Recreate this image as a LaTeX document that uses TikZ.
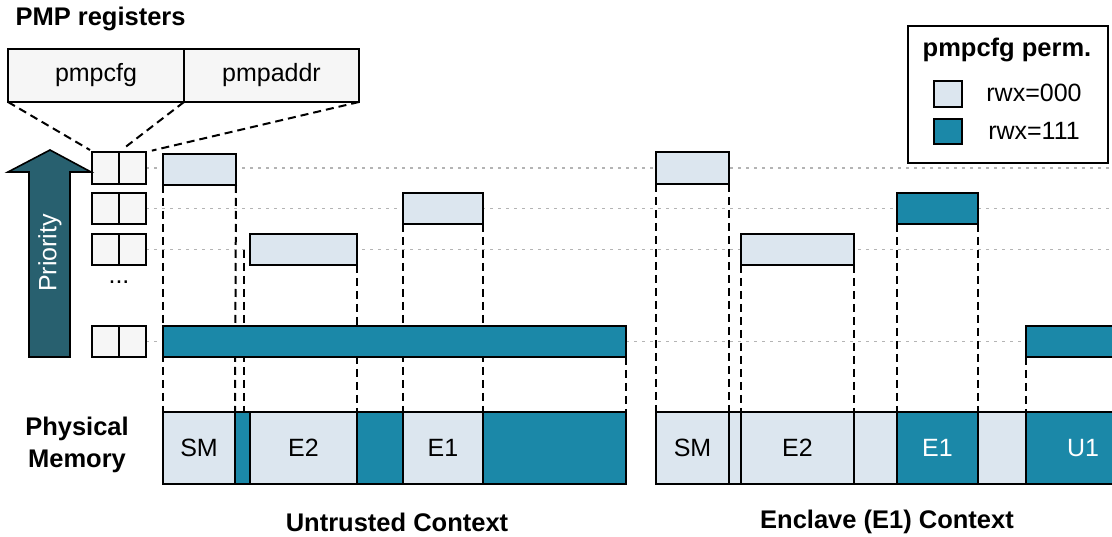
\documentclass[tikz,border=0pt]{standalone}
\usepackage{fontspec}
\setmainfont{Liberation Sans}
\usetikzlibrary{backgrounds}
\definecolor{litec}{HTML}{DCE6EF}
\definecolor{tealc}{HTML}{1B88A8}
\definecolor{arrowc}{HTML}{28606F}
\definecolor{cellc}{HTML}{F6F6F6}
\definecolor{guidec}{HTML}{B4B4B4}
\tikzset{
  blk/.style={draw=black, line width=2pt, inner sep=0pt, outer sep=0pt},
  lite/.style={blk, fill=litec},
  tealblk/.style={blk, fill=tealc, text=white},
  cell/.style={blk, fill=cellc},
  drop/.style={draw=black, line width=2pt, dash pattern=on 8pt off 5pt},
  guide/.style={draw=guidec, line width=1.6pt, dash pattern=on 3pt off 5pt},
  lbl/.style={font=\fontsize{25}{30}\selectfont},
  hd/.style={font=\bfseries\fontsize{25.5}{32}\selectfont},
}
% box node from its corner coordinates: name, style, x1, y1, x2, y2, text
\newcommand\mkseg[7]{%
  \node[#2, minimum width={#5pt-#3pt}, minimum height={#6pt-#4pt}, lbl]
    (#1) at ({(#3+#5)/2},{(#4+#6)/2}) {#7};}
\begin{document}
\begin{tikzpicture}[x=1pt,y=-1pt]
\clip (0,0) rectangle (1112,537);

% title and register layout
\node[hd, anchor=west] (title) at (12,19) {PMP registers};
\mkseg{rcfg}{cell}{8}{49}{184}{102}{pmpcfg}
\mkseg{raddr}{cell}{184}{49}{359}{102}{pmpaddr}

% per-entry register cells
\mkseg{c1a}{cell}{92}{152}{119}{184}{}
\mkseg{c1b}{cell}{119}{152}{146}{184}{}
\mkseg{c2a}{cell}{92}{193}{119}{224}{}
\mkseg{c2b}{cell}{119}{193}{146}{224}{}
\mkseg{c3a}{cell}{92}{234}{119}{265}{}
\mkseg{c3b}{cell}{119}{234}{146}{265}{}
\node[lbl] (dots) at (119,282) {...};
\mkseg{c4a}{cell}{92}{326}{119}{357}{}
\mkseg{c4b}{cell}{119}{326}{146}{357}{}

\draw[drop] (rcfg.south west) -- ([shift={(-2pt,2pt)}]c1a.north west);
\draw[drop, shorten >=8pt] (rcfg.south east) -- (c1a.north east);
\draw[drop, shorten >=6pt] (raddr.south east) -- (c1b.north east);

% priority arrow
\fill[arrowc, draw=black, line width=1.6pt]
  (29,357) -- (70,357) -- (70,172) -- (91,172) -- (50,150) -- (8,172) -- (29,172) -- cycle;
\node[lbl, text=white, rotate=90] (prio) at (50,253) {Priority};

% untrusted context: pmp entries
\mkseg{u1}{lite}{163}{154}{236}{185}{}
\mkseg{u2}{lite}{403}{193}{483}{224}{}
\mkseg{u3}{lite}{250}{234}{357}{265}{}
\mkseg{u4}{tealblk}{163}{326}{626}{357}{}

% untrusted context: physical memory
\mkseg{m1}{lite}{163}{412}{235}{484}{SM}
\mkseg{m2}{tealblk}{235}{412}{250}{484}{}
\mkseg{m3}{lite}{250}{412}{357}{484}{E2}
\mkseg{m4}{tealblk}{357}{412}{403}{484}{}
\mkseg{m5}{lite}{403}{412}{483}{484}{E1}
\mkseg{m6}{tealblk}{483}{412}{626}{484}{}

% enclave context: pmp entries
\mkseg{e1}{lite}{656}{152}{729}{184}{}
\mkseg{e2}{tealblk}{897}{193}{978}{224}{}
\mkseg{e3}{lite}{741}{234}{854}{265}{}
\mkseg{e4}{tealblk}{1026}{326}{1140}{357}{}

% enclave context: physical memory
\mkseg{n1}{lite}{656}{412}{729}{484}{SM}
\mkseg{n2}{lite}{729}{412}{741}{484}{}
\mkseg{n3}{lite}{741}{412}{854}{484}{E2}
\mkseg{n4}{lite}{854}{412}{897}{484}{}
\mkseg{n5}{tealblk}{897}{412}{978}{484}{E1}
\mkseg{n6}{lite}{978}{412}{1026}{484}{}
\mkseg{n7}{tealblk}{1026}{412}{1140}{484}{U1}

\coordinate (u3start) at (244,250);

\begin{scope}[on background layer]
  \fill[white] (0,0) rectangle (1112,537);
  % priority guides
  \draw[guide] (c1b.east) -- (1112,168);
  \draw[guide] (c2b.east) -- (1112,208.5);
  \draw[guide] (c3b.east) -- (1112,249.5);
  \draw[guide] (c4b.east) -- (1112,341.5);
  % region boundaries projected onto memory
  \draw[drop] (u1.south west) -- (m1.north west);
  \draw[drop] (u1.south east) -- (m1.north east);
  \draw[drop] (u3start) -- (u3start |- m2.north);
  \draw[drop] (u3.south east) -- (m3.north east);
  \draw[drop] (u2.south west) -- (m4.north east);
  \draw[drop] (u2.south east) -- (m5.north east);
  \draw[drop] (u4.south east) -- (m6.north east);
  \draw[drop] (e1.south west) -- (n1.north west);
  \draw[drop] (e1.south east) -- (n1.north east);
  \draw[drop] (e3.south west) -- (n2.north east);
  \draw[drop] (e3.south east) -- (n3.north east);
  \draw[drop] (e2.south west) -- (n4.north east);
  \draw[drop] (e2.south east) -- (n5.north east);
  \draw[drop] (e4.south west) -- (n6.north east);
\end{scope}

% labels
\node[hd, align=center] (phys) at (77,445) {Physical\\Memory};
\node[hd] (ctxu) at (397,522) {Untrusted Context};
\node[hd] (ctxe) at (887,522) {Enclave (E1) Context};

% legend
\mkseg{legend}{blk}{908}{26}{1108}{163}{}
\node[hd] (legtitle) at (1007,50) {pmpcfg perm.};
\mkseg{leg0}{lite}{934}{81}{962}{107}{}
\mkseg{leg1}{tealblk}{934}{119}{962}{144}{}
\node[lbl] (leg0t) at (1034,93) {rwx=000};
\node[lbl] (leg1t) at (1034,131) {rwx=111};
\end{tikzpicture}
\end{document}
